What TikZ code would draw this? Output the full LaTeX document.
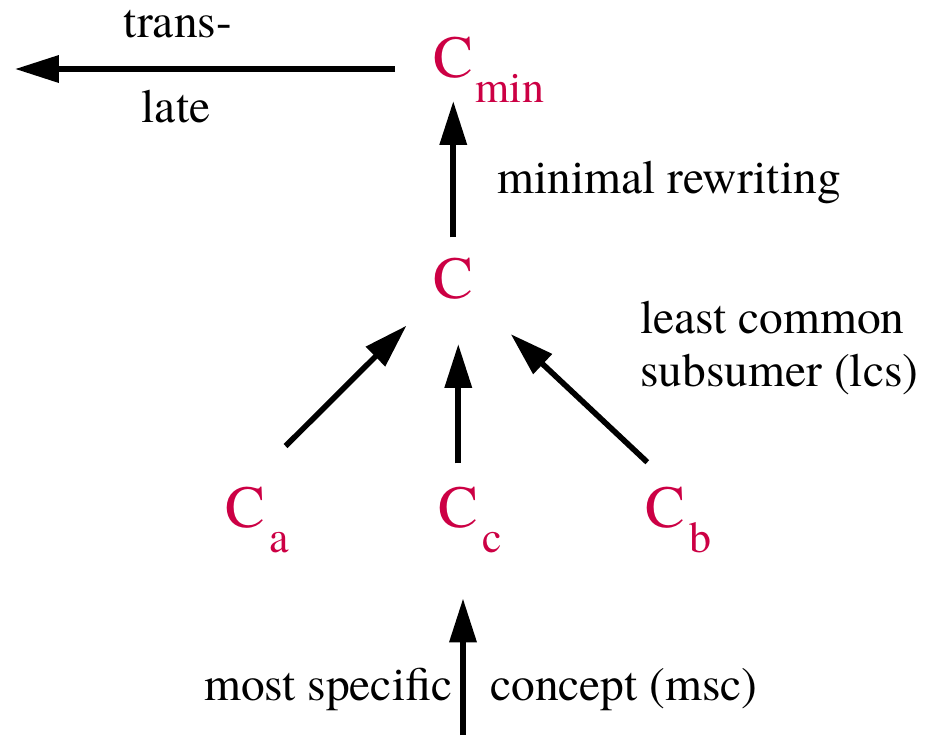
\documentclass[tikz,border=0pt]{standalone}
\usepackage{fontspec}
\setmainfont{TeX Gyre Termes}
\usepackage{xcolor}
\usetikzlibrary{arrows.meta, positioning, calc}
\definecolor{conceptred}{RGB}{204,0,68}

\tikzset{
	concept/.style={text=conceptred, font=\fontsize{34}{34}\selectfont, inner sep=0pt, anchor=base west},
	subscr/.style={text=conceptred, font=\fontsize{25}{25}\selectfont, inner sep=0pt, anchor=base west},
	lbl/.style={font=\fontsize{27}{30}\selectfont, inner sep=0pt},
	arr/.style={line width=3.2pt, -{Triangle[length=25pt, width=15pt]}},
}

\begin{document}
\begin{tikzpicture}[x=0.02cm, y=-0.02cm]
			\useasboundingbox (0,0) rectangle (927,735);
			
			% concepts
			\node[concept] (Cmin) at (433,77) {C};
			\node[subscr] (Cmin-sub) at ([xshift=1pt, yshift=-14.5pt]Cmin.base east) {min};
			\node[concept] (C) at (433,298) {C};
			\node[concept] (Ca) at (225,527) {C};
			\node[subscr] (Ca-sub) at ([xshift=2pt, yshift=-14.5pt]Ca.base east) {a};
			\node[concept] (Cc) at (438,527) {C};
			\node[subscr] (Cc-sub) at ([xshift=2pt, yshift=-14.5pt]Cc.base east) {c};
			\node[concept] (Cb) at (645,527) {C};
			\node[subscr] (Cb-sub) at ([xshift=2pt, yshift=-14.5pt]Cb.base east) {b};
			
			% translate
			\coordinate (out) at (15,69);
			\draw[arr, shorten <=21.5pt] (Cmin.west |- out) -- (out);
			\node[lbl, anchor=base] (trans) at (178,37) {trans-};
			\node[lbl, anchor=base] (late) at (176,122) {late};
			
			% minimal rewriting
			\draw[arr, shorten <=11.3pt, shorten >=13pt] (C.north) -- (Cmin.south);
			\node[lbl, anchor=base west] (rewr) at (497,193) {minimal rewriting};
			
			% lcs
			\draw[arr, shorten <=32.4pt, shorten >=21.3pt] (Ca.north) -- (C.south west);
			\draw[arr, shorten <=13pt, shorten >=25.5pt] (Cc.north) -- (Cc.north |- C.south);
			\draw[arr, shorten <=20pt, shorten >=29pt] (Cb.70) -- (C.south east);
			\node[lbl, anchor=base west] (least) at (640,333) {least common};
			\node[lbl, anchor=base west] (subs) at (640,386) {subsumer (lcs)};
			
			% msc
			\coordinate (in) at (463,735);
			\draw[arr, shorten >=40pt] (in) -- (in |- Cc.south);
			\node[lbl, anchor=base east] (most) at (453,700) {most specific};
			\node[lbl, anchor=base west] (conc) at (490,700) {concept (msc)};
\end{tikzpicture}
\end{document}
